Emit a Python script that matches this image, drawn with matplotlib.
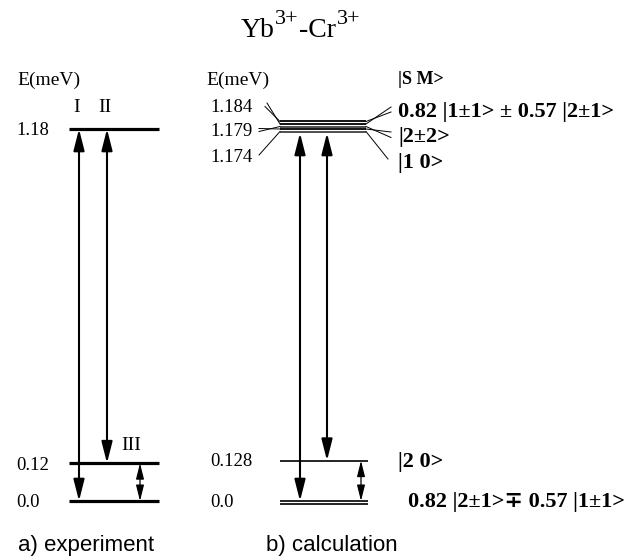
import matplotlib
matplotlib.use("Agg")
import matplotlib.pyplot as plt

# ---------------- data ----------------
title_parts = [("Yb", False), ("3+", True), ("-Cr", False), ("3+", True)]
axis_label = "E(meV)"
state_header = "|S M>"

exp_levels = [1.18, 0.12, 0.0]
exp_labels = ["1.18", "0.12", "0.0"]
exp_transitions = [("I", 1.18, 0.0), ("II", 1.18, 0.12)]
exp_third = ("III", 0.12, 0.0)

calc_upper = [1.184, 1.184, 1.179, 1.179, 1.174]
calc_upper_labels = ["1.184", "1.179", "1.174"]
calc_upper_states = ["0.82 |1±1> ± 0.57 |2±1>", "|2±2>", "|1 0>"]
calc_lower = [0.128, 0.0]
calc_lower_degeneracy = [1, 2]
calc_lower_labels = ["0.128", "0.0"]
calc_lower_states = ["|2 0>", "0.82 |2±1>∓ 0.57 |1±1>"]
calc_transitions = [(1.174, 0.0), (1.174, 0.128)]
calc_third = (0.128, 0.0)

captions = ["a) experiment", "b) calculation"]

# ---------------- layout ----------------
W, H = 635, 556
Y0 = 501.0          # pixel row of E = 0
PXM = 315.25        # pixels per meV


def ypx(p):
    """pixel row -> meV (layout helper for text/connectors)"""
    return (Y0 - p) / PXM


SERIF = ['Liberation Serif', 'DejaVu Serif']
SANS = ['Liberation Sans', 'DejaVu Sans']

fig = plt.figure(figsize=(W / 100, H / 100), dpi=100)
ax = fig.add_axes([0, 0, 1, 1])
ax.set_xlim(0, W)
ax.set_ylim(ypx(H), ypx(0))
ax.axis('off')
renderer = fig.canvas.get_renderer()


def arrow(x, e_top, e_bot, lw=1.5, hl=1.3, hw=0.33, ms=10):
    ax.annotate("", xy=(x, e_bot), xytext=(x, e_top),
                arrowprops=dict(arrowstyle=f"<|-|>,head_length={hl},head_width={hw}",
                                lw=lw, color='black', shrinkA=0, shrinkB=0,
                                mutation_scale=ms))


# title, built piece by piece (large superscripts as in the original)
x_cur = 241.0
for txt, sup in title_parts:
    if sup:
        t = ax.text(x_cur, ypx(24), txt, ha='left', va='baseline', fontsize=16, family=SERIF)
    else:
        t = ax.text(x_cur, ypx(37), txt, ha='left', va='baseline', fontsize=20, family=SERIF)
    bb = t.get_window_extent(renderer)
    x_cur += bb.width + (1 if sup else 0)

# ---------- panel a ----------
ax.text(17, ypx(80), axis_label, ha='left', va='center', fontsize=14, family=SERIF)
ax.hlines(exp_levels, 69, 159, color='black', lw=2.3)
for e, lab in zip(exp_levels, exp_labels):
    ax.text(16, e - 0.006, lab, ha='left', va='center', fontsize=13.5, family=SERIF)

exp_x = [79, 107]
for x, (name, et, eb) in zip(exp_x, exp_transitions):
    arrow(x, et, eb)
    ax.text(x - 2, ypx(107), name, ha='center', va='center', fontsize=14, family=SERIF)
arrow(140, exp_third[1], exp_third[2], lw=0.9, hl=1.2, hw=0.3, ms=8)
ax.text(131, ypx(446), exp_third[0], ha='center', va='center', fontsize=14, family=SERIF)

# ---------- panel b ----------
ax.text(206, ypx(80), axis_label, ha='left', va='center', fontsize=14, family=SERIF)
ax.text(398, ypx(80), state_header, ha='left', va='center', fontsize=13,
        family=SERIF, weight='bold')

# upper (expanded) cluster: schematic spacing by rank
gap = 2.5 / PXM
base = ypx(131.5)
order = sorted(range(len(calc_upper)), key=lambda i: calc_upper[i])
disp = [0.0] * len(calc_upper)
for rank, i in enumerate(order):
    disp[i] = base + rank * gap
bx0, bx1 = 280, 366
for i, d in enumerate(disp):
    ax.plot([bx0, bx1], [d, d], color='black' if i < 3 else '0.25', lw=1.3,
            solid_capstyle='butt')

# left labels + connectors
lab_rows = [107, 132, 157]
for row, lab in zip(lab_rows, calc_upper_labels):
    ax.text(210, ypx(row), lab, ha='left', va='center', fontsize=13.5, family=SERIF)
left_starts = [(267, 103), (265, 106.5), (259, 128.5), (259, 131.5), (259, 155)]
for (sx, sy), d in zip(left_starts, disp):
    ax.plot([sx, bx0], [ypx(sy), d], color='black', lw=0.7)

# right state labels + connectors
right_ends = [(391, 107), (391, 112), (391, 132), (391, 137.5), (388, 159)]
for (ex, ey), d in zip(right_ends, disp):
    ax.plot([bx1, ex], [d, ypx(ey)], color='black', lw=0.7)
state_rows = [112, 137, 163]
for row, s in zip(state_rows, calc_upper_states):
    ax.text(398, ypx(row), s, ha='left', va='center', fontsize=16, family=SERIF, weight='bold')

# lower levels
for e, deg, lab in zip(calc_lower, calc_lower_degeneracy, calc_lower_labels):
    for k in range(deg):
        ax.plot([bx0, 368], [e - k * gap, e - k * gap], color='black', lw=1.2,
                solid_capstyle='butt')
    ax.text(210, e - 0.004, lab, ha='left', va='center', fontsize=13.5, family=SERIF)
sx_lower = [398, 408]
for e, st, sx in zip(calc_lower, calc_lower_states, sx_lower):
    ax.text(sx, e - 0.004, st, ha='left', va='center', fontsize=16, family=SERIF, weight='bold')

calc_x = [300, 327]
for x, (et, eb) in zip(calc_x, calc_transitions):
    arrow(x, disp[-1] - 1.5 / PXM, eb)
arrow(361, calc_third[0], calc_third[1], lw=0.9, hl=1.2, hw=0.3, ms=8)

# captions
ax.text(18, ypx(546), captions[0], ha='left', va='center', fontsize=16, family=SANS)
ax.text(266, ypx(546), captions[1], ha='left', va='center', fontsize=16, family=SANS)

fig.savefig("out.png", dpi=100)
